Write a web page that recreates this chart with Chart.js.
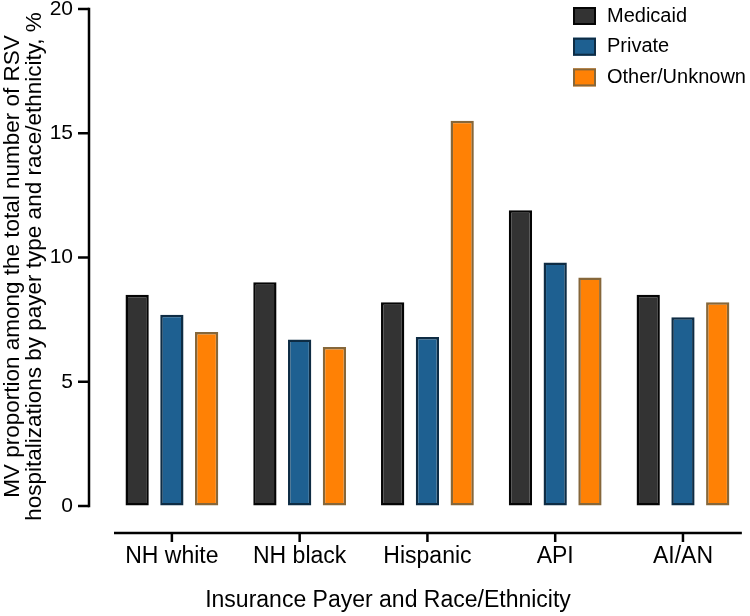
<!DOCTYPE html>
<html>
<head>
<meta charset="utf-8">
<script src="https://cdn.jsdelivr.net/npm/chart.js@4"></script>
<style>
  html, body { margin: 0; padding: 0; background: #fff; }
  #wrap { width: 750px; height: 616px; position: relative; }
</style>
</head>
<body>
<div id="wrap"><canvas id="c"></canvas></div>
<script>
const categories = ['NH white', 'NH black', 'Hispanic', 'API', 'AI/AN'];
const seriesNames = ['Medicaid', 'Private', 'Other/Unknown'];
const medicaid = [8.5, 9.0, 8.2, 11.9, 8.5];
const privateIns = [7.7, 6.7, 6.8, 9.8, 7.6];
const otherUnknown = [7.0, 6.4, 15.5, 9.2, 8.2];
const yTicks = [0, 5, 10, 15, 20];
const xTitle = 'Insurance Payer and Race/Ethnicity';
const yTitle = ['MV proportion among the total number of RSV', 'hospitalizations by payer type and race/ethnicity, %'];

const FONT = '"Liberation Sans", Arial, Helvetica, sans-serif';

const axesPlugin = {
  id: 'axesPlugin',
  afterDraw(chart) {
    const { ctx, chartArea, scales: { x, y } } = chart;
    ctx.save();
    ctx.strokeStyle = '#000';
    ctx.lineWidth = 2.5;
    ctx.lineCap = 'butt';
    // y axis line + ticks
    const ax = chartArea.left - 19;
    const yTop = y.getPixelForValue(yTicks[yTicks.length - 1]);
    const yBot = y.getPixelForValue(yTicks[0]);
    ctx.beginPath();
    ctx.moveTo(ax, yTop - 1.25);
    ctx.lineTo(ax, yBot + 1.25);
    ctx.stroke();
    y.ticks.forEach(t => {
      const py = y.getPixelForValue(t.value);
      ctx.beginPath();
      ctx.moveTo(ax - 11, py);
      ctx.lineTo(ax, py);
      ctx.stroke();
    });
    // x axis line + ticks
    const ay = chartArea.bottom + 27;
    ctx.beginPath();
    ctx.moveTo(chartArea.left + 6, ay);
    ctx.lineTo(chartArea.right - 5, ay);
    ctx.stroke();
    x.ticks.forEach((t, i) => {
      const px = x.getPixelForTick(i);
      ctx.beginPath();
      ctx.moveTo(px, ay);
      ctx.lineTo(px, ay + 9);
      ctx.stroke();
    });
    // x title
    ctx.fillStyle = '#000';
    ctx.font = '23px ' + FONT;
    ctx.textAlign = 'center';
    ctx.textBaseline = 'middle';
    ctx.fillText(xTitle, chartArea.left + 280, 601);
    // y title (two rotated lines)
    ctx.font = '22.5px ' + FONT;
    const yMid = (yTop + yBot) / 2 + 9;
    yTitle.forEach((line, i) => {
      ctx.save();
      ctx.translate(13 + i * 21.5, yMid);
      ctx.rotate(-Math.PI / 2);
      ctx.textAlign = 'center';
      ctx.textBaseline = 'middle';
      ctx.fillText(line, 0, 0);
      ctx.restore();
    });
    // legend
    chart.data.datasets.forEach((ds, i) => {
      const cy = 16 + i * 30.7;
      ctx.fillStyle = ds.backgroundColor;
      ctx.fillRect(573, cy - 9, 23, 18);
      ctx.strokeStyle = ds.borderColor;
      ctx.lineWidth = 2;
      ctx.strokeRect(574, cy - 8, 21, 16);
      ctx.fillStyle = '#000';
      ctx.font = '20px ' + FONT;
      ctx.textAlign = 'left';
      ctx.textBaseline = 'middle';
      ctx.fillText(ds.label, 607, cy);
    });
    ctx.restore();
  }
};

const colors = [
  { bg: '#333333', bd: '#050505' },
  { bg: '#1e6091', bd: '#0e2c44' },
  { bg: '#ff8105', bd: '#86673a' }
];
const seriesValues = [medicaid, privateIns, otherUnknown];

new Chart(document.getElementById('c'), {
  type: 'bar',
  data: {
    labels: categories,
    datasets: seriesNames.map((name, i) => ({
      label: name,
      data: seriesValues[i],
      backgroundColor: colors[i].bg,
      borderColor: colors[i].bd,
      borderWidth: 2.5,
      borderSkipped: false,
      categoryPercentage: 0.816,
      barPercentage: 0.67
    }))
  },
  options: {
    responsive: true,
    maintainAspectRatio: false,
    animation: false,
    layout: { padding: { top: 9, right: 0, bottom: 0, left: 0 } },
    plugins: {
      legend: { display: false },
      tooltip: { enabled: false }
    },
    scales: {
      x: {
        offset: true,
        grid: { display: false, drawTicks: false },
        border: { display: false },
        ticks: {
          color: '#000',
          padding: 37,
          font: { family: FONT, size: 23 }
        },
        afterFit(scale) { scale.height = 110; }
      },
      y: {
        min: yTicks[0],
        max: yTicks[yTicks.length - 1],
        grid: {
          display: true,
          drawOnChartArea: false,
          drawTicks: true,
          tickLength: 35,
          color: 'rgba(0,0,0,0)'
        },
        border: { display: false },
        afterBuildTicks(scale) { scale.ticks = yTicks.map(v => ({ value: v })); },
        ticks: {
          color: '#000',
          padding: 0,
          font: { family: FONT, size: 21, lineHeight: 0.8 }
        },
        title: { display: false },
        afterFit(scale) { scale.width = 108; }
      }
    }
  },
  plugins: [axesPlugin]
});
</script>
</body>
</html>
